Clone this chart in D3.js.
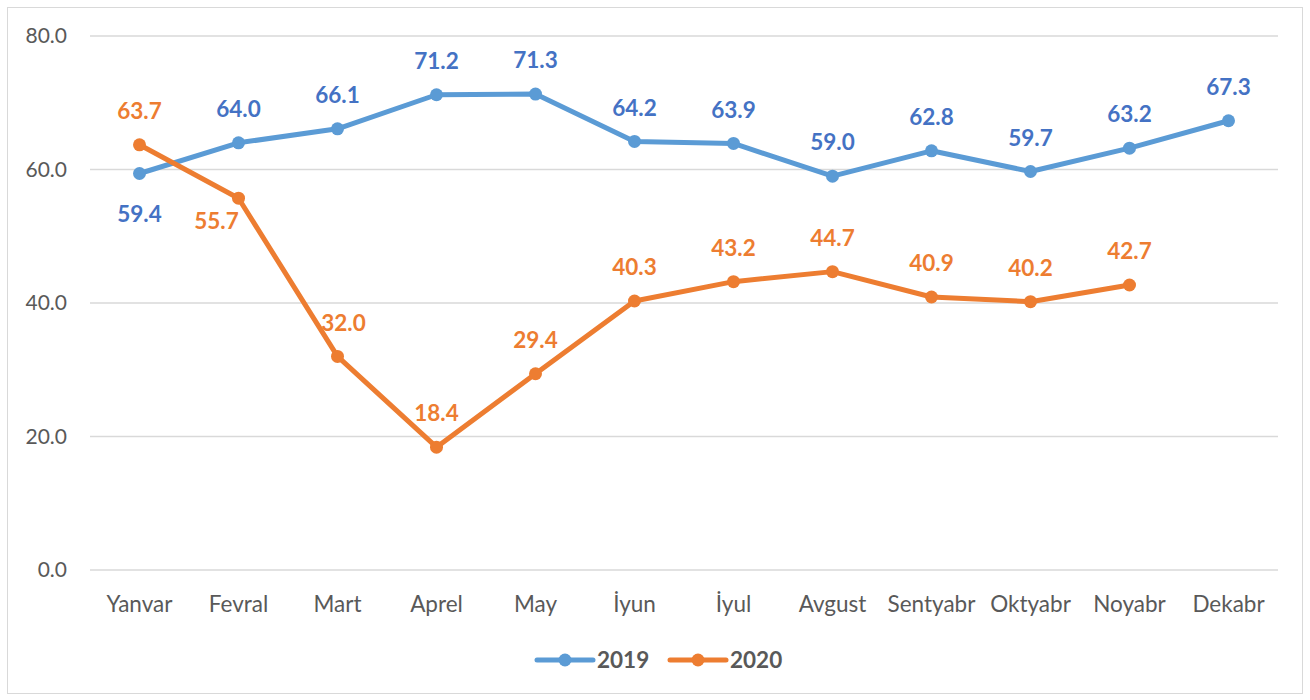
<!DOCTYPE html>
<html>
<head>
<meta charset="utf-8">
<script src="https://cdn.jsdelivr.net/npm/d3@7"></script>
<style>
  body { margin: 0; background: #fff; }
  text { font-family: Lato, "Open Sans", sans-serif; }
</style>
</head>
<body>
<svg class="chart"></svg>
<script>
// Data
var months = ['Yanvar', 'Fevral', 'Mart', 'Aprel', 'May', 'İyun', 'İyul', 'Avgust', 'Sentyabr', 'Oktyabr', 'Noyabr', 'Dekabr'];
var values2019 = [59.4, 64.0, 66.1, 71.2, 71.3, 64.2, 63.9, 59.0, 62.8, 59.7, 63.2, 67.3];
var values2020 = [63.7, 55.7, 32.0, 18.4, 29.4, 40.3, 43.2, 44.7, 40.9, 40.2, 42.7];
var yTicks = [0, 20, 40, 60, 80];

var W = 1310, H = 700;
var plot = {left: 90, right: 1278, top: 36, bottom: 570};

var series = [
  {name: '2019', values: values2019, line: '#5B9BD5', label: '#4472C4'},
  {name: '2020', values: values2020, line: '#ED7D31', label: '#ED7D31'}
];

var svg = d3.select('.chart')
  .attr('width', W)
  .attr('height', H);

// Chart border
svg.append('rect')
  .attr('x', 7.5).attr('y', 7.5)
  .attr('width', W - 15).attr('height', H - 14)
  .attr('fill', '#fff')
  .attr('stroke', '#d9d9d9')
  .attr('stroke-width', 1);

var x = d3.scaleBand()
  .domain(months)
  .range([plot.left, plot.right]);

var y = d3.scaleLinear()
  .domain([0, 80])
  .range([plot.bottom, plot.top]);

function cx (i) { return x(months[i]) + x.bandwidth() / 2; }

// Gridlines
svg.append('g')
  .selectAll('line')
  .data(yTicks)
  .enter()
  .append('line')
  .attr('x1', plot.left).attr('x2', plot.right)
  .attr('y1', function (d) { return y(d); })
  .attr('y2', function (d) { return y(d); })
  .attr('stroke', '#d9d9d9')
  .attr('stroke-width', 1.5);

// Y axis labels
var yAxis = d3.axisLeft(y).tickValues(yTicks).tickFormat(d3.format('.1f')).tickSize(0).tickPadding(23);
var gy = svg.append('g')
  .attr('transform', 'translate(' + plot.left + ',0)')
  .call(yAxis);
gy.select('.domain').remove();
gy.selectAll('text')
  .attr('fill', '#595959')
  .style('font-size', '21px')
  .style('font-family', 'Lato, sans-serif');

// X axis labels
var xAxis = d3.axisBottom(x).tickSize(0).tickPadding(26);
var gx = svg.append('g')
  .attr('transform', 'translate(0,' + plot.bottom + ')')
  .call(xAxis);
gx.select('.domain').remove();
gx.selectAll('text')
  .attr('fill', '#595959')
  .style('font-size', '22.5px')
  .style('font-family', 'Lato, sans-serif');

// Lines
var line = d3.line()
  .x(function (d, i) { return cx(i); })
  .y(function (d) { return y(d); });

series.forEach(function (s) {
  var g = svg.append('g');
  g.append('path')
    .datum(s.values)
    .attr('d', line)
    .attr('fill', 'none')
    .attr('stroke', s.line)
    .attr('stroke-width', 5)
    .attr('stroke-linejoin', 'round')
    .attr('stroke-linecap', 'round');

  g.selectAll('circle')
    .data(s.values)
    .enter()
    .append('circle')
    .attr('cx', function (d, i) { return cx(i); })
    .attr('cy', function (d) { return y(d); })
    .attr('r', 6.5)
    .attr('fill', s.line);
});

// Data labels
function labelOffset (sname, i) {
  if (sname === '2019' && i === 0) return {dx: 0, dy: 40};
  if (sname === '2020' && i === 1) return {dx: -22, dy: 23};
  if (sname === '2020' && i === 2) return {dx: 6, dy: -34};
  return {dx: 0, dy: -34};
}

series.forEach(function (s) {
  svg.append('g')
    .selectAll('text')
    .data(s.values)
    .enter()
    .append('text')
    .attr('x', function (d, i) { return cx(i) + labelOffset(s.name, i).dx; })
    .attr('y', function (d, i) { return y(d) + labelOffset(s.name, i).dy; })
    .attr('dy', '0.36em')
    .attr('text-anchor', 'middle')
    .attr('fill', s.label)
    .style('font-size', '22.5px')
    .style('font-weight', 'bold')
    .text(function (d) { return d3.format('.1f')(d); });
});

// Legend
var legend = svg.append('g')
  .attr('transform', 'translate(537,660)');
var legendX = [0, 133];
series.forEach(function (s, i) {
  var lg = legend.append('g').attr('transform', 'translate(' + legendX[i] + ',0)');
  lg.append('line')
    .attr('x1', 0).attr('x2', 56)
    .attr('y1', 0).attr('y2', 0)
    .attr('stroke', s.line)
    .attr('stroke-width', 5)
    .attr('stroke-linecap', 'round');
  lg.append('circle')
    .attr('cx', 28).attr('cy', 0).attr('r', 6.5)
    .attr('fill', s.line);
  lg.append('text')
    .attr('x', 60).attr('y', 0)
    .attr('dy', '0.36em')
    .attr('fill', '#595959')
    .style('font-size', '22.5px')
    .style('font-weight', 'bold')
    .text(s.name);
});
</script>
</body>
</html>
